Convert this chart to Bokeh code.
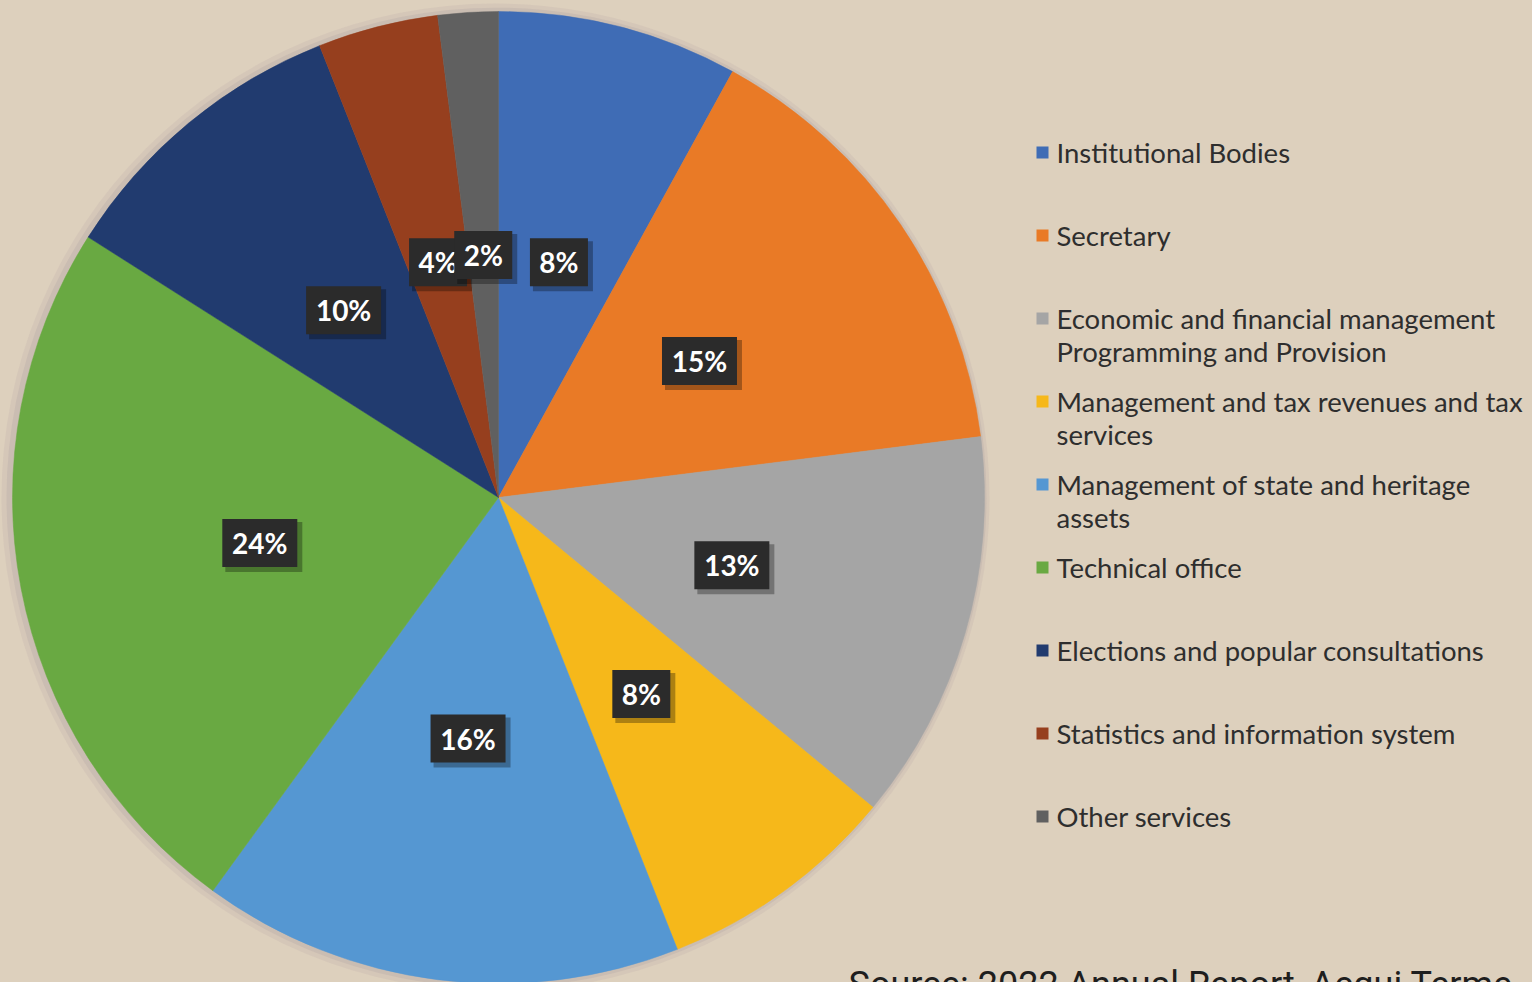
import math
from bokeh.plotting import figure
from bokeh.models import Range1d
from bokeh.core.properties import value
from bokeh.embed import file_html
from bokeh.resources import INLINE

# ---- data ----
categories = [
    "Institutional Bodies",
    "Secretary",
    "Economic and financial management\nProgramming and Provision",
    "Management and tax revenues and tax\nservices",
    "Management of state and heritage\nassets",
    "Technical office",
    "Elections and popular consultations",
    "Statistics and information system",
    "Other services",
]
shares = [8, 15, 13, 8, 16, 24, 10, 4, 2]
colors = ["#3f6cb5", "#e97a26", "#a5a5a5", "#f6b81a", "#5597d2",
          "#69a942", "#213b6f", "#963f1e", "#606060"]
source_note = "Source: 2022 Annual Report, Acqui Terme"

BG = "#ddd0bd"
W, H = 1532, 982

p = figure(width=W, height=H, x_range=Range1d(0, W), y_range=Range1d(0, H),
           output_backend="svg", toolbar_location=None, min_border=0)
p.axis.visible = False
p.grid.visible = False
p.outline_line_color = None
p.background_fill_color = BG
p.border_fill_color = BG

# pie geometry (pixel units)
cx, cy, r = 498, 485, 486

# soft shadow halo (stronger on the left)
p.circle(x=[cx - 3], y=[cy], radius=r + 8, fill_color="#b9a9a9", fill_alpha=0.22, line_color=None)
p.circle(x=[cx - 2], y=[cy], radius=r + 4, fill_color="#b3a4a6", fill_alpha=0.3, line_color=None)

total = float(sum(shares))
starts, ends, mids = [], [], []
cum = 0.0
for s in shares:
    a0 = math.pi / 2 - cum / total * 2 * math.pi
    cum += s
    a1 = math.pi / 2 - cum / total * 2 * math.pi
    starts.append(a0)
    ends.append(a1)
    mids.append((a0 + a1) / 2)

p.wedge(x=cx, y=cy, radius=r, start_angle=starts, end_angle=ends, direction="clock",
        fill_color=colors, line_color=colors, line_width=0.5)

# data labels
label_r = 0.5 * r
for i, s in enumerate(shares):
    txt = f"{s}%"
    lx = cx + label_r * math.cos(mids[i])
    ly = cy + label_r * math.sin(mids[i])
    bw = 17 * len(txt) + 24
    bh = 48
    p.rect(x=[lx + 4], y=[ly - 4], width=bw + 2, height=bh + 2, fill_color="black",
           fill_alpha=0.3, line_color=None)
    p.rect(x=[lx], y=[ly], width=bw, height=bh, fill_color="#2b2b2b", line_color=None)
    p.text(x=[lx], y=[ly], text=[txt], text_align="center", text_baseline="middle",
           text_color="white", text_font=value("Lato"), text_font_style="bold",
           text_font_size="28px")

# legend
lg_x, lg_y0, lg_step, line_step = 1042, 830, 83, 33
for i, cat in enumerate(categories):
    y = lg_y0 - i * lg_step
    p.rect(x=[lg_x], y=[y], width=12, height=12, fill_color=colors[i], line_color=None)
    for j, line in enumerate(cat.split("\n")):
        p.text(x=[lg_x + 14], y=[y - j * line_step], text=[line], text_align="left",
               text_baseline="middle", text_color="#2e2e2e", text_font=value("Lato"),
               text_font_size="27.5px")

# source note (cut at the bottom edge as in the original)
p.text(x=[848], y=[-2], text=[source_note], text_align="left", text_baseline="alphabetic",
       text_color="#1e1e1e", text_font=value("Roboto"), text_font_size="36px")

template = """{% block preamble %}<style>html, body { background-color: #ddd0bd; overflow: hidden; }</style>{% endblock %}"""
try:
    html = file_html(p, INLINE, title="Pie chart", template=template)
except Exception:
    html = file_html(p, INLINE, title="Pie chart")
open("out.html", "w").write(html)
